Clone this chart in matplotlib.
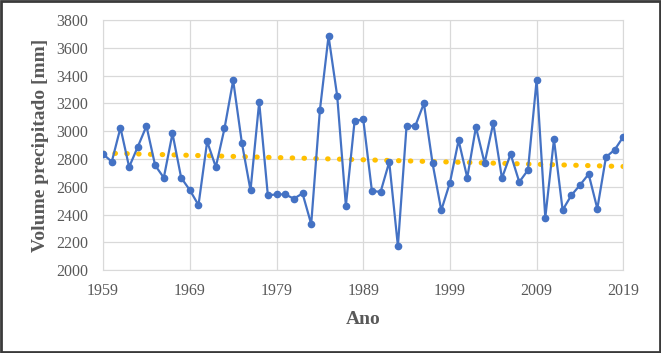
import numpy as np
import matplotlib
matplotlib.use("Agg")
import matplotlib.pyplot as plt
from matplotlib.patches import Rectangle

# annual precipitation volume (mm), 1959-2019
years = list(range(1959, 2020))
volume = [
    2835, 2780, 3025, 2742, 2888, 3037, 2754, 2665, 2984, 2665,
    2576, 2468, 2926, 2742, 3020, 3366, 2917, 2574, 3210, 2538,
    2545, 2545, 2514, 2552, 2331, 3150, 3685, 3253, 2463, 3070,
    3087, 2571, 2562, 2778, 2173, 3039, 3037, 3200, 2768, 2430,
    2629, 2934, 2665, 3030, 2770, 3058, 2662, 2835, 2634, 2720,
    3368, 2377, 2941, 2432, 2538, 2612, 2691, 2442, 2814, 2866,
    2960,
]
x_ticks = list(range(1959, 2020, 10))
y_ticks = list(range(2000, 3801, 200))

plt.rcParams['font.family'] = ['Liberation Serif', 'DejaVu Serif']

fig = plt.figure(figsize=(6.61, 3.53), dpi=100)
ax = fig.add_axes([0.156, 0.235, 0.787, 0.708])

# linear trend line (Excel-like)
coef = np.polyfit(years, volume, 1)
trend = np.polyval(coef, years)
ax.plot(years, trend, color='#FFC000', linestyle=(0, (0.1, 2.2)),
        linewidth=3.7, dash_capstyle='round', zorder=2)

ax.plot(years, volume, color='#4472C4', linewidth=1.6, marker='o',
        markersize=4.5, zorder=3)

ax.set_xlim(1959, 2019)
ax.set_ylim(2000, 3800)
ax.set_xticks(x_ticks)
ax.set_yticks(y_ticks)
ax.grid(True, color='#D9D9D9', linewidth=0.9)
ax.set_axisbelow(True)
for s in ax.spines.values():
    s.set_color('#D9D9D9')
ax.tick_params(length=0, labelsize=11.5, colors='#595959')
ax.tick_params(axis='x', pad=9)
ax.tick_params(axis='y', pad=11)

ax.set_xlabel('Ano', fontsize=14, fontweight='bold', color='#595959', labelpad=9)
ax.set_ylabel('Volume precipitado [mm]', fontsize=14, fontweight='bold',
              color='#595959', labelpad=5)

fig.patches.append(Rectangle((0.002, 0.003), 0.996, 0.994, transform=fig.transFigure,
                             fill=False, edgecolor='#3A3A3A', linewidth=2))

fig.savefig('out.png', dpi=100)
